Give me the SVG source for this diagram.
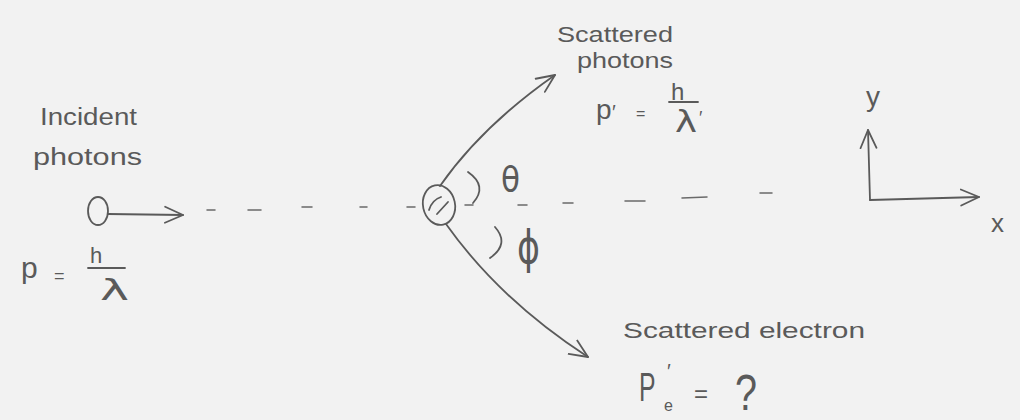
<svg xmlns="http://www.w3.org/2000/svg" width="1020" height="420" viewBox="0 0 1020 420">
  <style>
    .ink { fill: none; stroke: #5a5a5a; stroke-width: 1.8; stroke-linecap: round; stroke-linejoin: round; }
    .dash { fill: none; stroke: #6a6a6a; stroke-width: 1.5; stroke-linecap: round; }
    .hand { font-family: "Liberation Sans", "DejaVu Sans", sans-serif; fill: #5a5a5a; }
    .greek { font-family: "DejaVu Sans", "Liberation Sans", sans-serif; fill: #5a5a5a; }
  </style>
  <defs>
    <marker id="vhead" markerUnits="userSpaceOnUse" viewBox="0 0 20 20" markerWidth="20" markerHeight="20" refX="19" refY="10" orient="auto">
      <path d="M1,2 L19,10 L1,18" fill="none" stroke="#5a5a5a" stroke-width="1.8" stroke-linecap="round" stroke-linejoin="round"/>
    </marker>
  </defs>
  <rect x="0" y="0" width="1020" height="420" fill="#f2f2f2"/>

  <!-- reference (dashed) line through the electron -->
  <g id="reference-line">
    <line class="dash" x1="207" y1="210" x2="215" y2="210"/>
    <line class="dash" x1="248" y1="210" x2="261" y2="210"/>
    <line class="dash" x1="302" y1="207" x2="312" y2="207"/>
    <line class="dash" x1="360" y1="207" x2="367" y2="207"/>
    <line class="dash" x1="407" y1="207" x2="415" y2="207"/>
    <line class="dash" x1="465" y1="205" x2="473" y2="205"/>
    <line class="dash" x1="518" y1="205" x2="527" y2="205"/>
    <line class="dash" x1="563" y1="203" x2="573" y2="203"/>
    <line class="dash" x1="625" y1="201" x2="645" y2="201"/>
    <line class="dash" x1="682" y1="198" x2="707" y2="197"/>
    <line class="dash" x1="760" y1="193" x2="772" y2="193"/>
  </g>

  <!-- connectors -->
  <g id="connectors">
    <path class="ink" d="M108,214 L183,215" marker-end="url(#vhead)"/>
    <path class="ink" d="M440,186 Q482,126 555,75" marker-end="url(#vhead)"/>
    <path class="ink" d="M446,224 Q500,300 588,357" marker-end="url(#vhead)"/>
  </g>

  <!-- incident photon -->
  <g id="incident-photon">
    <ellipse class="ink" cx="98" cy="211" rx="10" ry="14"/>
    <text class="hand" x="40" y="125" font-size="23" textLength="97" lengthAdjust="spacingAndGlyphs">Incident</text>
    <text class="hand" x="33" y="165" font-size="23" textLength="109" lengthAdjust="spacingAndGlyphs">photons</text>
    <text class="hand" x="21" y="278" font-size="30">p</text>
    <text class="hand" x="54" y="282" font-size="18">=</text>
    <text class="hand" x="90" y="263" font-size="22">h</text>
    <line class="ink" x1="88" y1="268" x2="125" y2="268"/>
    <text class="greek" x="100" y="300" font-size="28" textLength="29" lengthAdjust="spacingAndGlyphs">λ</text>
  </g>

  <!-- electron -->
  <g id="electron">
    <ellipse class="ink" cx="439" cy="205" rx="16" ry="20" transform="rotate(-12 439 205)"/>
    <path class="ink" d="M429,210 Q432,200 441,197"/>
    <path class="ink" d="M437,214 L448,202"/>
  </g>

  <!-- scattering angles -->
  <g id="angle-theta">
    <path class="ink" d="M468,172 Q488,186 473,203"/>
    <text class="greek" x="501" y="192" font-size="36" textLength="19" lengthAdjust="spacingAndGlyphs">θ</text>
  </g>
  <g id="angle-phi">
    <path class="ink" d="M495,227 Q510,244 490,258"/>
    <text class="greek" x="517" y="263" font-size="46" textLength="23" lengthAdjust="spacingAndGlyphs">ϕ</text>
  </g>

  <!-- scattered photon label -->
  <g id="scattered-photon">
    <text class="hand" x="557" y="42" font-size="22" textLength="116" lengthAdjust="spacingAndGlyphs">Scattered</text>
    <text class="hand" x="577" y="68" font-size="22" textLength="96" lengthAdjust="spacingAndGlyphs">photons</text>
    <text class="hand" x="596" y="119" font-size="28">p</text>
    <text class="hand" x="612" y="119" font-size="20">′</text>
    <text class="hand" x="636" y="119" font-size="16">=</text>
    <text class="hand" x="671" y="100" font-size="24">h</text>
    <line class="ink" x1="669" y1="102" x2="698" y2="102"/>
    <text class="greek" x="675" y="132" font-size="30" textLength="22" lengthAdjust="spacingAndGlyphs">λ</text>
    <text class="hand" x="699" y="124" font-size="18">′</text>
  </g>

  <!-- scattered electron label -->
  <g id="scattered-electron">
    <text class="hand" x="623" y="338" font-size="22" textLength="242" lengthAdjust="spacingAndGlyphs">Scattered electron</text>
    <text class="hand" font-size="40" transform="translate(639 401) scale(0.62 1)">P</text>
    <text class="hand" x="664" y="411" font-size="16">e</text>
    <text class="hand" x="667" y="378" font-size="20">′</text>
    <text class="hand" x="694" y="402" font-size="24">=</text>
    <text class="hand" x="735" y="410" font-size="50" textLength="22" lengthAdjust="spacingAndGlyphs">?</text>
  </g>

  <!-- axes -->
  <g id="axes">
    <path class="ink" d="M870,200 L868,130" marker-end="url(#vhead)"/>
    <path class="ink" d="M870,200 L979,197" marker-end="url(#vhead)"/>
    <text class="hand" x="866" y="106" font-size="28">y</text>
    <text class="hand" x="991" y="232" font-size="26">x</text>
  </g>
</svg>
